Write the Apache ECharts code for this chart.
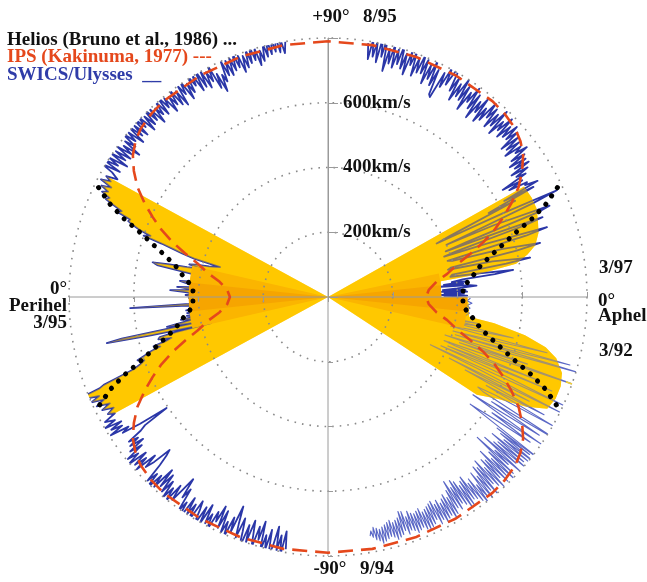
<!DOCTYPE html>
<html><head><meta charset="utf-8">
<script src="https://cdn.jsdelivr.net/npm/echarts@6/dist/echarts.min.js"></script>
<style>html,body{margin:0;padding:0;background:#fff}#c{width:647px;height:582px}</style>
</head><body><div id="c"></div>
<script>
// ---------------- data ----------------
// [heliolatitude (deg), speed (km/s)]
// SWICS/Ulysses, fast latitude scan 9/94 -> 3/95 (perihelion) -> 8/95 (left half)
const fastScan = [
[-80.5,790],[-80,735],[-79.5,815],[-79,750],[-78.5,800],[-78,725],[-77.5,790],[-77,820],[-76.5,740],[-76,805],[-75.5,760],[-75,815],[-74.5,720],[-74,780],[-73.5,740],[-73,810],[-72.5,765],[-72,726],[-71.5,800],[-71,745],[-70.5,825],[-70,770],[-69.5,730],[-69,795],[-68.5,750],[-68,698],[-67.5,785],[-67,740],[-66.5,810],[-66,760],[-65.5,800],[-65,730],[-64.5,790],[-64,720],[-63.5,775],[-63,745],[-62.5,815],[-62,760],[-61.5,795],[-61,735],[-60.5,805],[-60,750],[-59.5,820],[-59,770],[-58.5,740],[-58,825],[-57.5,760],[-57,800],[-56.5,745],[-56,840],[-55.5,770],[-55,805],[-54.5,730],[-54,765],[-53.5,700],[-53,745],[-52.5,790],[-52,740],[-51.5,805],[-51,760],[-50.5,800],[-50,745],[-49.5,790],[-49,730],[-48.5,780],[-48,720],[-47.5,795],[-47,755],[-46.5,815],[-46,760],[-45.5,795],[-45,735],[-44.5,700],[-44,680],[-43.5,740],[-43,770],[-42.5,725],[-42,795],[-41.5,750],[-41,790],[-40.5,740],[-40,805],[-39.5,760],[-39,795],[-38.5,735],[-38,775],[-37.5,720],[-37,765],[-36.5,730],[-36,760],[-35.5,710],[-35,690],[-34.5,605],[-34,700],[-33.5,760],[-33,735],[-32.5,795],[-32,750],[-31.5,785],[-31,745],[-30.5,800],[-30,760],
[-29.3,790],[-28.6,750],[-28,770],[-27.3,745],[-26.6,780],[-26,750],[-25.3,790],[-24.6,760],[-24,800],[-23.4,770],[-22.8,810],[-22.2,826],[-21.8,760],[-21.4,744],[-21,700],[-20.4,640],[-19.8,618],[-19,600],[-18.4,620],[-17.6,590],[-17,570],[-16.4,540],[-15.8,560],[-15.2,520],[-14.6,500],[-14,540],[-13.4,534],[-13,480],[-12.6,370],[-12.2,560],[-11.8,698],[-11.4,650],[-11,400],[-10.5,506],[-10,500],[-9.4,420],[-8.8,460],[-8.2,400],[-7.6,440],[-7,380],[-6.5,438],[-6,377],[-5.4,440],[-4.8,390],[-4.2,420],[-3.6,400],[-3.2,612],[-2.8,430],[-2.2,405],[-1.6,420],[-1,400],[-0.4,430],[0.2,417],[0.8,440],[1.4,400],[1.8,395],[2.5,488],[3.1,410],[3.8,467],[4.4,390],[5,343],[5.6,440],[6.2,460],[6.8,380],[7.4,400],[8,390],[8.4,358],[9,380],[9.6,420],[10,423],[10.6,537],[11.2,552],[11.6,500],[12,445],[12.6,400],[13.2,440],[13.8,420],[14.4,380],[15,360],[15.5,346],[16,430],[16.6,470],[17.2,500],[17.8,540],[18.4,600],[19,580],[19.6,617],[20.2,640],[20.8,660],[21.4,656],[22,700],[22.6,690],[23.2,720],[23.8,750],[24.4,741],[25,770],[25.6,753],[26.2,780],[26.8,750],[27.4,790],[28,760],[28.6,780],[29.2,745],
[30,770],[30.5,810],[31,750],[31.5,815],[32,765],[32.5,800],[33,740],[33.5,805],[34,755],[34.5,795],[35,745],[35.5,800],[36,750],[36.5,785],[37,730],[37.5,790],[38,755],[38.5,810],[39,765],[39.5,800],[40,745],[40.5,815],[41,760],[41.5,800],[42,750],[42.5,820],[43,770],[43.5,810],[44,745],[44.5,795],[45,755],[45.5,815],[46,760],[46.5,800],[47,740],[47.5,790],[48,760],[48.5,805],[49,750],[49.5,815],[50,765],[50.5,795],[51,740],[51.5,790],[52,755],[52.5,805],[53,745],[53.5,790],[54,735],[54.5,800],[55,765],[55.5,810],[56,740],[56.5,790],[57,755],[57.5,810],[58,770],[58.5,800],[59,745],[59.5,815],[60,750],[60.5,800],[61,740],[61.5,790],[62,755],[62.5,805],[63,725],[63.5,770],[64,708],[64.5,760],[65,735],[65.5,800],[66,750],[66.5,795],[67,745],[67.5,800],[68,755],[68.5,810],[69,760],[69.5,795],[70,740],[70.5,790],[71,750],[71.5,805],[72,760],[72.5,815],[73,765],[73.5,800],[74,745],[74.5,790],[75,755],[75.5,810],[76,765],[76.5,820],[77,770],[77.5,815],[78,775],[78.5,825],[79,770],[79.5,810],[80,765],[80.5,800]
];
// SWICS/Ulysses, 8/95 -> 3/97 (right half, northern)
const northAphel = [
[81,794],[80.5,745],[80,810],[79.5,755],[79,805],[78.5,740],[78,820],[77.5,760],[77,826],[76.5,718],[76,790],[75.5,745],[75,812],[74.5,735],[74,795],[73.5,750],[73,818],[72.5,740],[72,790],[71.5,725],[71,800],[70.5,760],[70,805],[69.5,730],[69,790],[68.5,745],[68,810],[67.5,748],[67,795],[66.5,720],[66,785],[65.5,740],[65,805],[64.5,725],[64,780],[63.5,700],[63,693],[62.5,780],[62,735],[61.5,805],[61,750],[60.5,800],[60,806],[59.5,740],[59,790],[58.5,715],[58,775],[57.5,735],[57,800],[56.5,730],[56,785],[55.5,705],[55,770],[54.5,740],[54,795],[53.5,725],[53,780],[52.5,700],[52,765],[51.5,730],[51,785],[50.5,705],[50,760],[49.5,720],[49,790],[48.5,740],[48,780],[47.5,715],[47,770],[46.5,730],[46,795],[45.5,710],[45,765],[44.5,735],[44,790],[43.5,720],[43,770],[42.5,732],[42,785],[41.5,735],[41,775],[40.5,705],[40,765],[39.5,715],[39,760],[38.5,700],[38,755],[37.5,730],[37,769],[36.5,705],[36,750],[35.5,690],[35,745],[34.5,700],[34,748],[33.5,680],[33,735],[32.5,690],[32,720],[31.5,633],[31,700],[30.5,650],[30,710],
[29.6,700],[29,740],[28.6,620],[28.2,720],[27.6,560],[27.2,650],[26.6,420],[26.2,374],[25.6,600],[25,780],[24.6,700],[24.2,520],[23.8,400],[23.4,560],[22.4,740],[22,700],[21.6,460],[21.2,390],[20.8,560],[20.4,707],[20,650],[19.6,420],[19.2,380],[18.6,520],[17.7,710],[17.2,640],[16.8,386],[16.2,400],[15.4,560],[14.3,676],[13.8,600],[13.4,390],[12.8,380],[12.2,520],[11,636],[10.6,560],[10.2,390],[9.4,383],[8.8,480],[8.3,578],[7.8,520],[7.4,420],[6.8,385],
[6.4,430],[6,360],[5.6,420],[5.2,350],[4.8,440],[4.4,460],[3.8,400],[3.4,355],[3,425],[2.6,350],[2.2,430],[1.8,360],[1.4,420],[1,350],[0.6,430],[0.2,360],[0,410]
];
// SWICS/Ulysses, 3/92 -> 9/94 (right half, southern)
const southAphel = [
[-0.5,440],[-1.5,430],[-2.5,445],[-3.5,430],[-4.5,440],[-5.5,425],[-6.5,440],[-7.5,430],[-8.5,420],[-9.5,380],[-10,470],[-10.4,375],[-11,470],[-11.6,400],[-12.5,586],[-13,420],[-13.4,390],[-14.3,698],[-14.8,520],[-15.2,400],[-15.7,776],[-16.2,600],[-16.5,410],[-16.8,803],[-17.4,560],[-18,380],[-18.6,650],[-19.2,430],[-19.6,836],[-20.2,500],[-20.6,383],[-21,420],[-21.6,700],[-22.2,400],[-22.8,750],[-23.4,380],[-24,600],[-24.7,800],[-25,349],[-25.6,520],[-26.4,800],[-26.8,420],[-27.4,700],[-28,480],[-28.6,760],[-29.2,560],[-29.8,815],[-30.4,600],[-31,540],[-31.4,560],[-32,845],[-32.6,600],[-33.2,780],[-34,540],[-34.6,800],[-35.2,620],[-35.7,769],[-36.2,650],[-37,550],[-37.5,852],[-37.8,661],
[-38,790],[-38.35,680],[-38.7,820],[-39.05,700],[-39.4,800],[-39.75,660],[-40.1,790],[-40.45,690],[-40.8,810],[-41.15,680],[-41.5,775],[-41.85,650],[-42.2,800],[-42.55,700],[-42.9,760],[-43.25,633],[-43.6,790],[-43.95,690],[-44.3,805],[-44.65,710],[-45,780],[-45.35,670],[-45.7,795],[-46.05,700],[-46.4,770],[-46.75,690],[-47.1,800],[-47.45,715],[-47.8,785],[-48.15,680],[-48.5,770],[-48.85,700],[-49.2,805],[-49.55,690],[-49.9,780],[-50.25,720],[-50.6,810],[-50.95,700],[-51.3,790],[-51.65,740],[-52,805],[-52.35,710],[-52.7,790],[-53.05,720],[-53.4,775],[-53.75,690],[-54.1,770],[-54.45,700],[-54.8,785],[-55.15,710],[-55.5,790],[-55.85,690],[-56.2,770],[-56.55,680],[-56.9,760],[-57.25,700],[-57.6,775],[-57.95,673],[-58.3,765],[-58.65,700],[-59,780],[-59.35,720],[-59.7,790],[-60.05,705],[-60.4,775],[-60.75,715],[-61.1,780],[-61.45,725],[-61.8,790],[-62.15,710],[-62.5,775],[-62.85,720],[-63.2,785],[-63.55,705],[-63.9,765],[-64.25,710],[-64.6,775],[-64.95,715],[-65.3,780],[-65.65,720],[-66,785],[-66.35,725],[-66.7,780],[-67.05,710],[-67.4,770],[-67.75,715],[-68.1,775],[-68.45,720],[-68.8,780],[-69.15,715],[-69.5,770],[-69.85,705],[-70.2,765],[-70.55,720],[-70.9,775],[-71.25,700],[-71.6,760],[-71.95,697],[-72.3,770],[-72.65,715],[-73,775],[-73.35,720],[-73.7,780],[-74.05,725],[-74.4,770],[-74.75,715],[-75.1,765],[-75.45,720],[-75.8,770],[-76.15,725],[-76.5,775],[-76.85,730],[-77.2,780],[-77.55,735],[-77.9,770],[-78.25,730],[-78.6,765],[-78.95,725],[-79.3,755],[-79.65,735],[-80,750]
];
const yellowSpike = [[-19.6,780],[-19.8,958]];
// outer edge of the shaded (yellow) low-latitude regions
const yellowNorthRight = [[0,345],[2,345],[4,348],[6,350],[8,352],[8.6,470],[10,590],[12,630],[14,660],[17,680],[20,690],[23,700],[26,700],[29.4,695]];
const yellowSouthRight = [[0,430],[-3,435],[-6,438],[-8,440],[-9,520],[-11,620],[-13,690],[-15,730],[-18,760],[-21,770],[-24,770],[-27,760],[-29,700],[-31,610],[-33.3,550]];
const yellowLatLimit = 29;
// orange inner bands
const bandMidLeft = [[-13,430],[-10,430],[-7,430],[-4,430],[-1,430],[2,430],[5,430],[8,430],[11,430],[13,430]];
const bandDarkLeft = [[-6,430],[-3,430],[0,430],[3,430],[6,430]];
const bandMidRight = [[-13,430],[-10,430],[-7,430],[-4,430],[-1,430],[0,430],[0,350],[3,350],[6,350],[9,350],[12,350],[13,350]];
const bandDarkRight = [[-6,430],[-3,430],[0,430],[0,350],[3,350],[6,350]];
// IPS (Kakinuma, 1977), symmetric in latitude
const ipsLat   = [0, 4, 8, 11, 14.5, 17, 19.5, 22, 24.5, 27, 30, 33, 36, 39, 42, 46, 50, 60, 70, 80, 90];
const ipsSpeed = [303, 312, 338, 375, 417, 462, 510, 555, 595, 635, 680, 715, 745, 765, 778, 786, 790, 790, 790, 790, 790];
// Helios (Bruno et al., 1986)
const heliosLat   = [0, 4, 8, 11.5, 14, 16.5, 19, 21, 23, 25.5];
const heliosSpeed = [417, 418, 450, 480, 515, 560, 615, 675, 730, 785];
// radial ticks
const speedTicks = [200, 400, 600];

// ---------------- build ----------------
const toLeft = p => [p[1], 90 - p[0]];    // [radius, angle]
const toRight = p => [p[1], 270 + p[0]];

const ipsSide = [];
for (let i = ipsLat.length - 1; i >= 0; i--) ipsSide.push([ipsLat[i], ipsSpeed[i]]);
for (let i = 1; i < ipsLat.length; i++) ipsSide.push([-ipsLat[i], ipsSpeed[i]]);
const ipsData = ipsSide.map(toLeft).concat(ipsSide.slice().reverse().map(toRight));

const heliosSide = [];
for (let i = heliosLat.length - 1; i >= 0; i--) heliosSide.push([heliosLat[i], heliosSpeed[i]]);
for (let i = 1; i < heliosLat.length; i++) heliosSide.push([-heliosLat[i], heliosSpeed[i]]);

const yellowLeft = fastScan.filter(p => Math.abs(p[0]) <= yellowLatLimit);

const YELLOW = '#ffc800', BLUE = '#2b37a8', LBLUE = '#5b68c6', RED = '#e5481c';
const SERIF = '"Liberation Serif","Times New Roman",serif';

function area(data, color, z, opacity) {
  return {type:'line', coordinateSystem:'polar', polarIndex:0, data, symbol:'none', showSymbol:false,
    lineStyle:{width:0, opacity:0}, areaStyle:{color, opacity: opacity == null ? 1 : opacity},
    z, silent:true, clip:false, animation:false};
}
function line(data, color, width, z, extra) {
  return Object.assign({type:'line', coordinateSystem:'polar', polarIndex:0, data, symbol:'none', showSymbol:false,
    lineStyle:Object.assign({color, width, join:'round'}, extra || {}), z, silent:true, clip:false, animation:false});
}

const polarBase = {center:[328, 297], radius:259};
const GRID = '#9a9a9a';
const hiddenAngle = (i, start) => ({polarIndex:i, type:'value', min:0, max:360, startAngle:start, clockwise:false, show:false});
const tickRadius = i => ({polarIndex:i, type:'value', min:0, max:800, interval:200, z:5,
  axisLine:{show:false}, axisLabel:{show:false}, splitLine:{show:false},
  axisTick:{show:true, length:5, lineStyle:{color:GRID, width:1}}});

const option = {
  animation:false,
  backgroundColor:'#fff',
  polar:[polarBase, Object.assign({}, polarBase), Object.assign({}, polarBase), Object.assign({}, polarBase)],
  angleAxis:[
    {polarIndex:0, type:'value', min:0, max:360, interval:90, startAngle:90, clockwise:false, z:5,
      axisLine:{show:false}, axisTick:{show:false}, axisLabel:{show:false},
      splitLine:{show:true, lineStyle:{color:GRID, width:1}}},
    hiddenAngle(1, 0), hiddenAngle(2, 180), hiddenAngle(3, 270)
  ],
  radiusAxis:[
    {polarIndex:0, type:'value', min:0, max:800, interval:200, z:5,
      axisLine:{show:true, lineStyle:{color:GRID, width:1}},
      axisTick:{show:true, length:-10, lineStyle:{color:GRID, width:1}},
      axisLabel:{show:true, margin:-15, align:'left', verticalAlign:'middle',
        formatter: v => speedTicks.indexOf(v) >= 0 ? v + 'km/s' : '',
        fontFamily:SERIF, fontWeight:'bold', fontSize:19, color:'#111'},
      splitLine:{show:true, lineStyle:{color:'#8a8a8a', width:1.6, type:[1.6,6]}}},
    tickRadius(1), tickRadius(2), tickRadius(3)
  ],
  series:[
    area(yellowLeft.map(toLeft), YELLOW, 1),
    area(yellowNorthRight.map(toRight), YELLOW, 1),
    area(yellowSouthRight.map(toRight), YELLOW, 1),
    line(fastScan.map(toLeft), BLUE, 1.8, 2),
    line(northAphel.map(toRight), BLUE, 1.8, 2),
    line(southAphel.map(toRight), LBLUE, 1.1, 2),
    area(yellowLeft.map(toLeft), YELLOW, 3, 0.45),
    area(yellowNorthRight.map(toRight), YELLOW, 3, 0.45),
    area(yellowSouthRight.map(toRight), YELLOW, 3, 0.45),
    line(yellowSpike.map(toRight), '#f4d030', 1.5, 3),
    area(bandMidLeft.map(toLeft), '#fbb500', 4),
    area(bandMidRight.map(toRight), '#fbb500', 4),
    area(bandDarkLeft.map(toLeft), '#f6a500', 4),
    area(bandDarkRight.map(toRight), '#f6a500', 4),
    line(ipsData, RED, 2.6, 6, {type:[15,8]}),
    line(heliosSide.map(toLeft), '#000', 5, 7, {type:[0.1,10], cap:'round'}),
    line(heliosSide.map(toRight), '#000', 5, 7, {type:[0.1,10], cap:'round'})
  ],
  graphic:[]
};

function txt(text, x, y, align, color) {
  return {type:'text', x, y, z:10, silent:true,
    style:{text, x:0, y:0, fill:color || '#111', fontFamily:SERIF, fontWeight:'bold', fontSize:19,
      align, textAlign:align, verticalAlign:'middle', textVerticalAlign:'middle'}};
}
option.graphic = [
  txt('Helios (Bruno et al., 1986) ...', 7, 40.5, 'left', '#111'),
  txt('IPS (Kakinuma, 1977) ---', 7, 57.5, 'left', RED),
  txt('SWICS/Ulysses  __', 7, 75, 'left', '#2f3ca8'),
  txt('+90°', 331, 17, 'center'),
  txt('8/95', 363, 17, 'left'),
  txt('-90°', 330, 569, 'center'),
  txt('9/94', 360, 569, 'left'),
  txt('0°', 67, 289, 'right'),
  txt('Perihel', 67, 306, 'right'),
  txt('3/95', 67, 323, 'right'),
  txt('3/97', 599, 268, 'left'),
  txt('0°', 598, 301, 'left'),
  txt('Aphel', 598, 316, 'left'),
  txt('3/92', 599, 351, 'left')
];

const chart = echarts.init(document.getElementById('c'), null, {renderer:'canvas'});
chart.setOption(option);
</script>
</body></html>
